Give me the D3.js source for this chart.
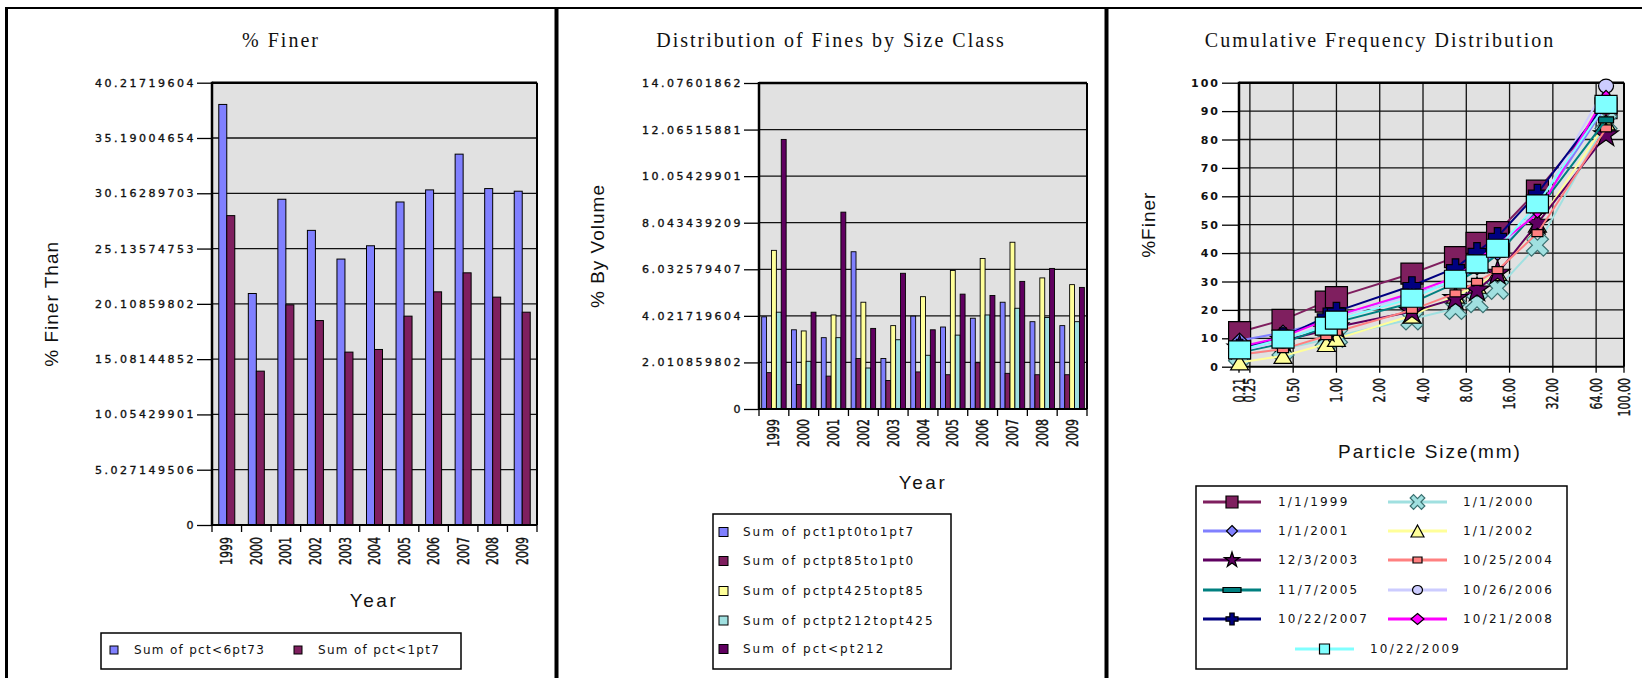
<!DOCTYPE html>
<html><head><meta charset="utf-8">
<script src="https://cdn.jsdelivr.net/npm/d3@7"></script>
<style>
body{margin:0;background:#fff;}
svg{display:block;}
text{fill:#111;}
</style></head><body>
<svg id="c" width="1642" height="678"></svg>
<script>
// ---------------- DATA ----------------
const years = ["1999","2000","2001","2002","2003","2004","2005","2006","2007","2008","2009"];

// Left chart: % Finer
const pctLt6pt73 = [38.24, 21.05, 29.62, 26.79, 24.18, 25.39, 29.37, 30.47, 33.72, 30.59, 30.35];
const pctLt1pt7  = [28.13, 13.99, 20.02, 18.59, 15.72, 15.96, 18.99, 21.20, 22.93, 20.72, 19.35];
const leftTickValues = [0, 5.027149506, 10.05429901, 15.08144852, 20.10859802, 25.13574753, 30.16289703, 35.19004654, 40.21719604];
const leftTickLabels = ["0","5.027149506","10.05429901","15.08144852","20.10859802","25.13574753","30.16289703","35.19004654","40.21719604"];
const leftLegend = ["Sum of pct<6pt73","Sum of pct<1pt7"];

// Middle chart: Distribution of Fines by Size Class
const pct1pt0to1pt7   = [3.98, 3.42, 3.08, 6.79, 2.18, 4.01, 3.54, 3.92, 4.61, 3.77, 3.60];
const pctpt85to1pt0   = [1.57, 1.06, 1.42, 2.18, 1.23, 1.60, 1.48, 2.00, 1.54, 1.48, 1.48];
const pctpt425topt85  = [6.85, 3.37, 4.06, 4.61, 3.60, 4.85, 5.98, 6.50, 7.20, 5.66, 5.37];
const pctpt212topt425 = [4.18, 2.06, 3.08, 1.77, 2.99, 2.32, 3.19, 4.06, 4.35, 3.95, 3.77];
const pctLtpt212      = [11.64, 4.18, 8.50, 3.48, 5.86, 3.42, 4.96, 4.90, 5.51, 6.07, 5.25];
const midTickValues = [0, 2.010859802, 4.021719604, 6.032579407, 8.043439209, 10.05429901, 12.06515881, 14.07601862];
const midTickLabels = ["0","2.010859802","4.021719604","6.032579407","8.043439209","10.05429901","12.06515881","14.07601862"];
const midLegend = ["Sum of pct1pt0to1pt7","Sum of pctpt85to1pt0","Sum of pctpt425topt85","Sum of pctpt212topt425","Sum of pct<pt212"];

// Right chart: Cumulative Frequency Distribution
const sizesMm = [0.212, 0.425, 0.85, 1.0, 3.35, 6.73, 9.5, 13.2, 25, 75];
const cum1999 = [12.2, 16.5, 22.9, 24.5, 32.8, 38.6, 43.6, 47.4, 62.0, 91.0];
const cum2000 = [4.2, 6.2, 9.6, 10.7, 16.8, 20.5, 22.9, 27.6, 42.8, 86.0];
const cum2001 = [9.2, 12.0, 16.0, 17.5, 25.5, 30.0, 35.0, 40.0, 55.0, 92.0];
const cum2002 = [1.5, 3.8, 8.0, 9.8, 18.0, 25.0, 28.5, 33.0, 50.0, 86.0];
const cum2003 = [6.5, 9.2, 12.8, 14.0, 19.4, 24.0, 27.0, 32.9, 50.5, 81.6];
const cum2004 = [4.2, 6.2, 10.8, 12.3, 20.0, 25.8, 29.9, 34.0, 47.0, 83.9];
const cum2005 = [5.0, 8.2, 14.1, 15.6, 22.5, 29.4, 34.0, 39.5, 55.0, 86.9];
const cum2006 = [5.5, 9.0, 15.5, 17.5, 25.0, 30.5, 36.0, 41.0, 56.0, 98.8];
const cum2007 = [6.5, 10.5, 17.5, 19.5, 28.5, 34.8, 40.5, 45.8, 61.0, 93.0];
const cum2008 = [7.0, 10.5, 16.5, 18.0, 26.0, 31.5, 37.5, 43.0, 53.8, 95.9];
const cum2009 = [5.9, 9.7, 14.3, 16.4, 24.1, 30.8, 36.2, 41.7, 57.3, 92.4];
const sampleDates = ["1/1/1999","1/1/2000","1/1/2001","1/1/2002","12/3/2003","10/25/2004","11/7/2005","10/26/2006","10/22/2007","10/21/2008","10/22/2009"];
const rightXTickValues = [0.21, 0.25, 0.5, 1, 2, 4, 8, 16, 32, 64, 100];
const rightXTickLabels = ["0.21","0.25","0.50","1.00","2.00","4.00","8.00","16.00","32.00","64.00","100.00"];
const rightYTickValues = [0,10,20,30,40,50,60,70,80,90,100];

// ---------------- STYLE ----------------
const PLOT_BG = "#E1E1E1";
const TICKFONT = "'DejaVu Sans', Verdana, sans-serif";
const TITLEFONT = "'Liberation Serif', 'Times New Roman', serif";
const AXISFONT = "'Liberation Sans', Arial, sans-serif";

const svg = d3.select("#c");

// panel frames
svg.append("line").attr("x1",5).attr("x2",1642).attr("y1",8).attr("y2",8).attr("stroke","#000").attr("stroke-width",2);
[[6.5,3],[556.5,4],[1106.5,4]].forEach(([x,w])=>{
  svg.append("line").attr("x1",x).attr("x2",x).attr("y1",7).attr("y2",678).attr("stroke","#000").attr("stroke-width",w);
});

function title(x, y, txt){
  svg.append("text").attr("x",x).attr("y",y).attr("text-anchor","middle")
    .style("font-family",TITLEFONT).style("font-size","20px").style("letter-spacing","2px").text(txt);
}
function axisTitle(x, y, txt, rot){
  svg.append("text").attr("text-anchor","middle")
    .style("font-family",AXISFONT).style("font-size","19px").style("letter-spacing", rot ? "1px" : "2.5px")
    .attr("transform", rot ? `translate(${x},${y}) rotate(-90)` : `translate(${x},${y})`)
    .attr("dy","0.35em").text(txt);
}
function rotLabel(g, x, yTop, txt){
  g.append("text").attr("transform",`translate(${x},${yTop}) rotate(-90) scale(1,1.4)`)
    .attr("text-anchor","end").attr("dy","0.36em")
    .style("font-family",TICKFONT).style("font-size","11px")
    .style("stroke","#111").style("stroke-width","0.3px").text(txt);
}

function drawPlotFrame(x0, x1, y, tickVals, tickLabels, o){
  const yTop = y.range()[1], yBot = y.range()[0];
  svg.append("rect").attr("x",x0).attr("y",yTop).attr("width",x1-x0).attr("height",yBot-yTop).attr("fill",PLOT_BG);
  const ax = d3.axisLeft(y).tickValues(tickVals).tickFormat((d,i)=>tickLabels[i]).tickSize(o.tick).tickPadding(o.pad);
  const g = svg.append("g").attr("transform",`translate(${x0},0)`).call(ax);
  g.select(".domain").remove();
  g.selectAll(".tick line").attr("stroke","#000").attr("stroke-width",1.3);
  g.selectAll(".tick text").style("font-family",TICKFONT).style("font-size",o.size)
    .style("font-weight",o.weight||"normal").style("letter-spacing",o.ls).attr("fill","#111")
    .style("stroke","#111").style("stroke-width", o.weight ? "0px" : "0.35px");
  svg.append("g").selectAll("line").data(tickVals.filter(v=>v>0)).join("line")
    .attr("x1",x0).attr("x2",x1).attr("y1",d=>y(d)).attr("y2",d=>y(d))
    .attr("stroke","#111").attr("stroke-width",1.3);
  return g;
}
function drawPlotBorder(x0,x1,yTop,yBot){
  svg.append("line").attr("x1",x0).attr("x2",x1).attr("y1",yTop).attr("y2",yTop).attr("stroke","#000").attr("stroke-width",2.5);
  svg.append("line").attr("x1",x1).attr("x2",x1).attr("y1",yTop).attr("y2",yBot).attr("stroke","#000").attr("stroke-width",2);
  svg.append("line").attr("x1",x0).attr("x2",x0).attr("y1",yTop-1).attr("y2",yBot).attr("stroke","#000").attr("stroke-width",2.5);
  svg.append("line").attr("x1",x0).attr("x2",x1).attr("y1",yBot).attr("y2",yBot).attr("stroke","#000").attr("stroke-width",2);
}

// ---------------- LEFT CHART ----------------
(function(){
  const x0=212, x1=537, yTop=82.7, yBot=525;
  const y = d3.scaleLinear().domain([0, 40.21719604]).range([yBot, yTop]);
  const x = d3.scaleBand().domain(years).range([x0, x1]);
  title(281, 47, "% Finer");
  drawPlotFrame(x0, x1, y, leftTickValues, leftTickLabels, {tick:15, pad:1, size:"11px", ls:"2.5px"});
  const bw = 8, off = (x.bandwidth() - 2*bw)/2;
  const series = [[pctLt6pt73,"#8080FF"],[pctLt1pt7,"#7F1F5F"]];
  series.forEach(([vals,col],si)=>{
    svg.append("g").selectAll("rect").data(vals).join("rect")
      .attr("x",(d,i)=>x(years[i])+off+si*bw).attr("width",bw)
      .attr("y",d=>y(d)).attr("height",d=>yBot-y(d))
      .attr("fill",col).attr("stroke","#000").attr("stroke-width",1);
  });
  drawPlotBorder(x0,x1,yTop,yBot);
  const bounds = d3.range(years.length+1).map(i=>x.range()[0]+i*x.step());
  svg.append("g").selectAll("line").data(bounds).join("line")
    .attr("x1",d=>d).attr("x2",d=>d).attr("y1",yBot).attr("y2",yBot+7).attr("stroke","#000").attr("stroke-width",1.3);
  const lg = svg.append("g");
  years.forEach(yr=>rotLabel(lg, x(yr)+x.bandwidth()/2, 537, yr));
  axisTitle(51, (yTop+yBot)/2, "% Finer Than", true);
  axisTitle(374, 600, "Year", false);
  svg.append("rect").attr("x",101).attr("y",633).attr("width",360).attr("height",36).attr("fill","#fff").attr("stroke","#000").attr("stroke-width",1.5);
  const lx = [110, 294];
  series.forEach(([vals,col],i)=>{
    svg.append("rect").attr("x",lx[i]).attr("y",646).attr("width",8).attr("height",8).attr("fill",col).attr("stroke","#000");
    svg.append("text").attr("x",lx[i]+24).attr("y",650).attr("dy","0.35em")
      .style("font-family",TICKFONT).style("font-size","12px").style("letter-spacing","1.3px").text(leftLegend[i]);
  });
})();

// ---------------- MIDDLE CHART ----------------
(function(){
  const x0=759, x1=1087, yTop=83, yBot=409;
  const y = d3.scaleLinear().domain([0, 14.07601862]).range([yBot, yTop]);
  const x = d3.scaleBand().domain(years).range([x0, x1]);
  title(831, 47, "Distribution of Fines by Size Class");
  drawPlotFrame(x0, x1, y, midTickValues, midTickLabels, {tick:15, pad:1, size:"11px", ls:"2.5px"});
  const series = [[pct1pt0to1pt7,"#8080FF"],[pctpt85to1pt0,"#7F1F5F"],[pctpt425topt85,"#FFFF99"],[pctpt212topt425,"#A0E0E0"],[pctLtpt212,"#600060"]];
  const bw = 4.9, off = (x.bandwidth() - series.length*bw)/2;
  series.forEach(([vals,col],si)=>{
    svg.append("g").selectAll("rect").data(vals).join("rect")
      .attr("x",(d,i)=>x(years[i])+off+si*bw).attr("width",bw)
      .attr("y",d=>y(d)).attr("height",d=>yBot-y(d))
      .attr("fill",col).attr("stroke","#000").attr("stroke-width",0.9);
  });
  drawPlotBorder(x0,x1,yTop,yBot);
  const bounds = d3.range(years.length+1).map(i=>x.range()[0]+i*x.step());
  svg.append("g").selectAll("line").data(bounds).join("line")
    .attr("x1",d=>d).attr("x2",d=>d).attr("y1",yBot).attr("y2",yBot+7).attr("stroke","#000").attr("stroke-width",1.3);
  const lg = svg.append("g");
  years.forEach(yr=>rotLabel(lg, x(yr)+x.bandwidth()/2, 419, yr));
  axisTitle(597, (yTop+yBot)/2, "% By Volume", true);
  axisTitle(923, 482, "Year", false);
  svg.append("rect").attr("x",713).attr("y",514).attr("width",238).attr("height",155).attr("fill","#fff").attr("stroke","#000").attr("stroke-width",1.5);
  const rows = [532, 561, 591, 620.5, 649];
  series.forEach(([vals,col],i)=>{
    svg.append("rect").attr("x",719).attr("y",rows[i]-4.5).attr("width",9).attr("height",9).attr("fill",col).attr("stroke","#000");
    svg.append("text").attr("x",743).attr("y",rows[i]).attr("dy","0.35em")
      .style("font-family",TICKFONT).style("font-size","12px").style("letter-spacing","2px").text(midLegend[i]);
  });
})();

// ---------------- RIGHT CHART ----------------
function markerPath(type, w, h){
  const hw=w/2, hh=h/2;
  switch(type){
    case "square": case "rect": return `M${-hw},${-hh}h${w}v${h}h${-w}Z`;
    case "diamond": return `M0,${-hh}L${hw},0L0,${hh}L${-hw},0Z`;
    case "triangle": return `M0,${-hh}L${hw},${hh}L${-hw},${hh}Z`;
    case "circle": return `M${-hw},0a${hw},${hh} 0 1,0 ${w},0a${hw},${hh} 0 1,0 ${-w},0Z`;
    case "star": return d3.symbol(d3.symbolStar, (hw*hw)/0.8908130915292852)();
    case "plus": case "x": {
      const t = w*(type==="x"?0.3:0.36), a=t/2;
      let pts = [[-a,-hh],[a,-hh],[a,-a],[hw,-a],[hw,a],[a,a],[a,hh],[-a,hh],[-a,a],[-hw,a],[-hw,-a],[-a,-a]];
      if(type==="x"){ const c=Math.SQRT1_2; pts = pts.map(([px,py])=>[(px-py)*c,(px+py)*c]); }
      return "M"+pts.map(p=>p[0].toFixed(2)+","+p[1].toFixed(2)).join("L")+"Z";
    }
  }
}
(function(){
  const x0=1239, x1=1624, yTop=82.7, yBot=366.7;
  const y = d3.scaleLinear().domain([0,100]).range([yBot,yTop]);
  const x = d3.scaleLog().domain([0.21,100]).range([x0,x1]);
  title(1380, 47, "Cumulative Frequency Distribution");
  drawPlotFrame(x0, x1, y, rightYTickValues, rightYTickValues.map(String), {tick:17, pad:2, size:"11px", ls:"2px", weight:"bold"});
  svg.append("g").selectAll("line").data(rightXTickValues).join("line")
    .attr("x1",d=>x(d)).attr("x2",d=>x(d)).attr("y1",yTop).attr("y2",yBot)
    .attr("stroke","#111").attr("stroke-width",1.3);
  drawPlotBorder(x0,x1,yTop,yBot);
  svg.append("g").selectAll("line").data(rightXTickValues).join("line")
    .attr("x1",d=>x(d)).attr("x2",d=>x(d)).attr("y1",yBot).attr("y2",yBot+6).attr("stroke","#000").attr("stroke-width",1.3);
  const lg = svg.append("g");
  rightXTickValues.forEach((v,i)=>rotLabel(lg, x(v), 378, rightXTickLabels[i]));
  axisTitle(1148, (yTop+yBot)/2, "%Finer", true);
  svg.append("text").attr("x",1430).attr("y",451).attr("text-anchor","middle").attr("dy","0.35em")
    .style("font-family",AXISFONT).style("font-size","19px").style("letter-spacing","2px").text("Particle Size(mm)");

  const series = [
    {v:cum1999, line:"#7F1F5F", fill:"#7F1F5F", stroke:"#000", m:"square", w:22, h:21, lw:12, lh:12},
    {v:cum2000, line:"#A0E0E0", fill:"#A0E0E0", stroke:"#3a7070", m:"x", w:24, h:24, lw:16, lh:16},
    {v:cum2001, line:"#8080FF", fill:"#8080FF", stroke:"#000", m:"diamond", w:15, h:15, lw:11, lh:11},
    {v:cum2002, line:"#FFFF99", fill:"#FFFF99", stroke:"#000", m:"triangle", w:18, h:15, lw:13, lh:12},
    {v:cum2003, line:"#5F0060", fill:"#5F0060", stroke:"#000", m:"star", w:26, h:26, lw:16, lh:16},
    {v:cum2004, line:"#FF8080", fill:"#FF8080", stroke:"#000", m:"rect", w:11, h:7, lw:9, lh:6},
    {v:cum2005, line:"#008080", fill:"#008080", stroke:"#000", m:"rect", w:15, h:6, lw:18, lh:5},
    {v:cum2006, line:"#CCCCFF", fill:"#CCCCFF", stroke:"#000", m:"circle", w:15, h:14, lw:10, lh:9},
    {v:cum2007, line:"#000080", fill:"#000080", stroke:"#000", m:"plus", w:18, h:18, lw:12, lh:12},
    {v:cum2008, line:"#FF00FF", fill:"#FF00FF", stroke:"#000", m:"diamond", w:8, h:8, lw:13, lh:11},
    {v:cum2009, line:"#80FFFF", fill:"#80FFFF", stroke:"#000", m:"square", w:22, h:18, lw:10, lh:10}
  ];
  const lineGen = d3.line().x(d=>x(d[0])).y(d=>y(d[1]));
  series.forEach(s=>{
    const pts = sizesMm.map((sz,i)=>[sz, s.v[i]]);
    svg.append("path").attr("d",lineGen(pts)).attr("fill","none").attr("stroke",s.line).attr("stroke-width",2);
    svg.append("g").selectAll("path").data(pts).join("path")
      .attr("transform",d=>`translate(${x(d[0])},${y(d[1])})`)
      .attr("d",markerPath(s.m,s.w,s.h)).attr("fill",s.fill).attr("stroke",s.stroke).attr("stroke-width",1.2);
  });

  svg.append("rect").attr("x",1196).attr("y",486).attr("width",371).attr("height",183).attr("fill","#fff").attr("stroke","#000").attr("stroke-width",1.5);
  const rowsY = [502, 531, 560, 590, 619];
  series.forEach((s,i)=>{
    let lx0, lx1, tx, cy;
    if(i<10){
      const col = i%2, row = Math.floor(i/2);
      cy = rowsY[row];
      lx0 = col? 1388:1203; lx1 = col? 1447:1261; tx = col? 1463:1278;
    } else { cy = 649; lx0=1295; lx1=1354; tx=1370; }
    svg.append("line").attr("x1",lx0).attr("x2",lx1).attr("y1",cy).attr("y2",cy).attr("stroke",s.line).attr("stroke-width",3);
    svg.append("path").attr("transform",`translate(${(lx0+lx1)/2},${cy})`).attr("d",markerPath(s.m,s.lw,s.lh))
      .attr("fill",s.fill).attr("stroke",s.stroke).attr("stroke-width",1.2);
    svg.append("text").attr("x",tx).attr("y",cy).attr("dy","0.36em")
      .style("font-family",TICKFONT).style("font-size","12px").style("letter-spacing","2.2px").text(sampleDates[i]);
  });
})();
</script>
</body></html>
